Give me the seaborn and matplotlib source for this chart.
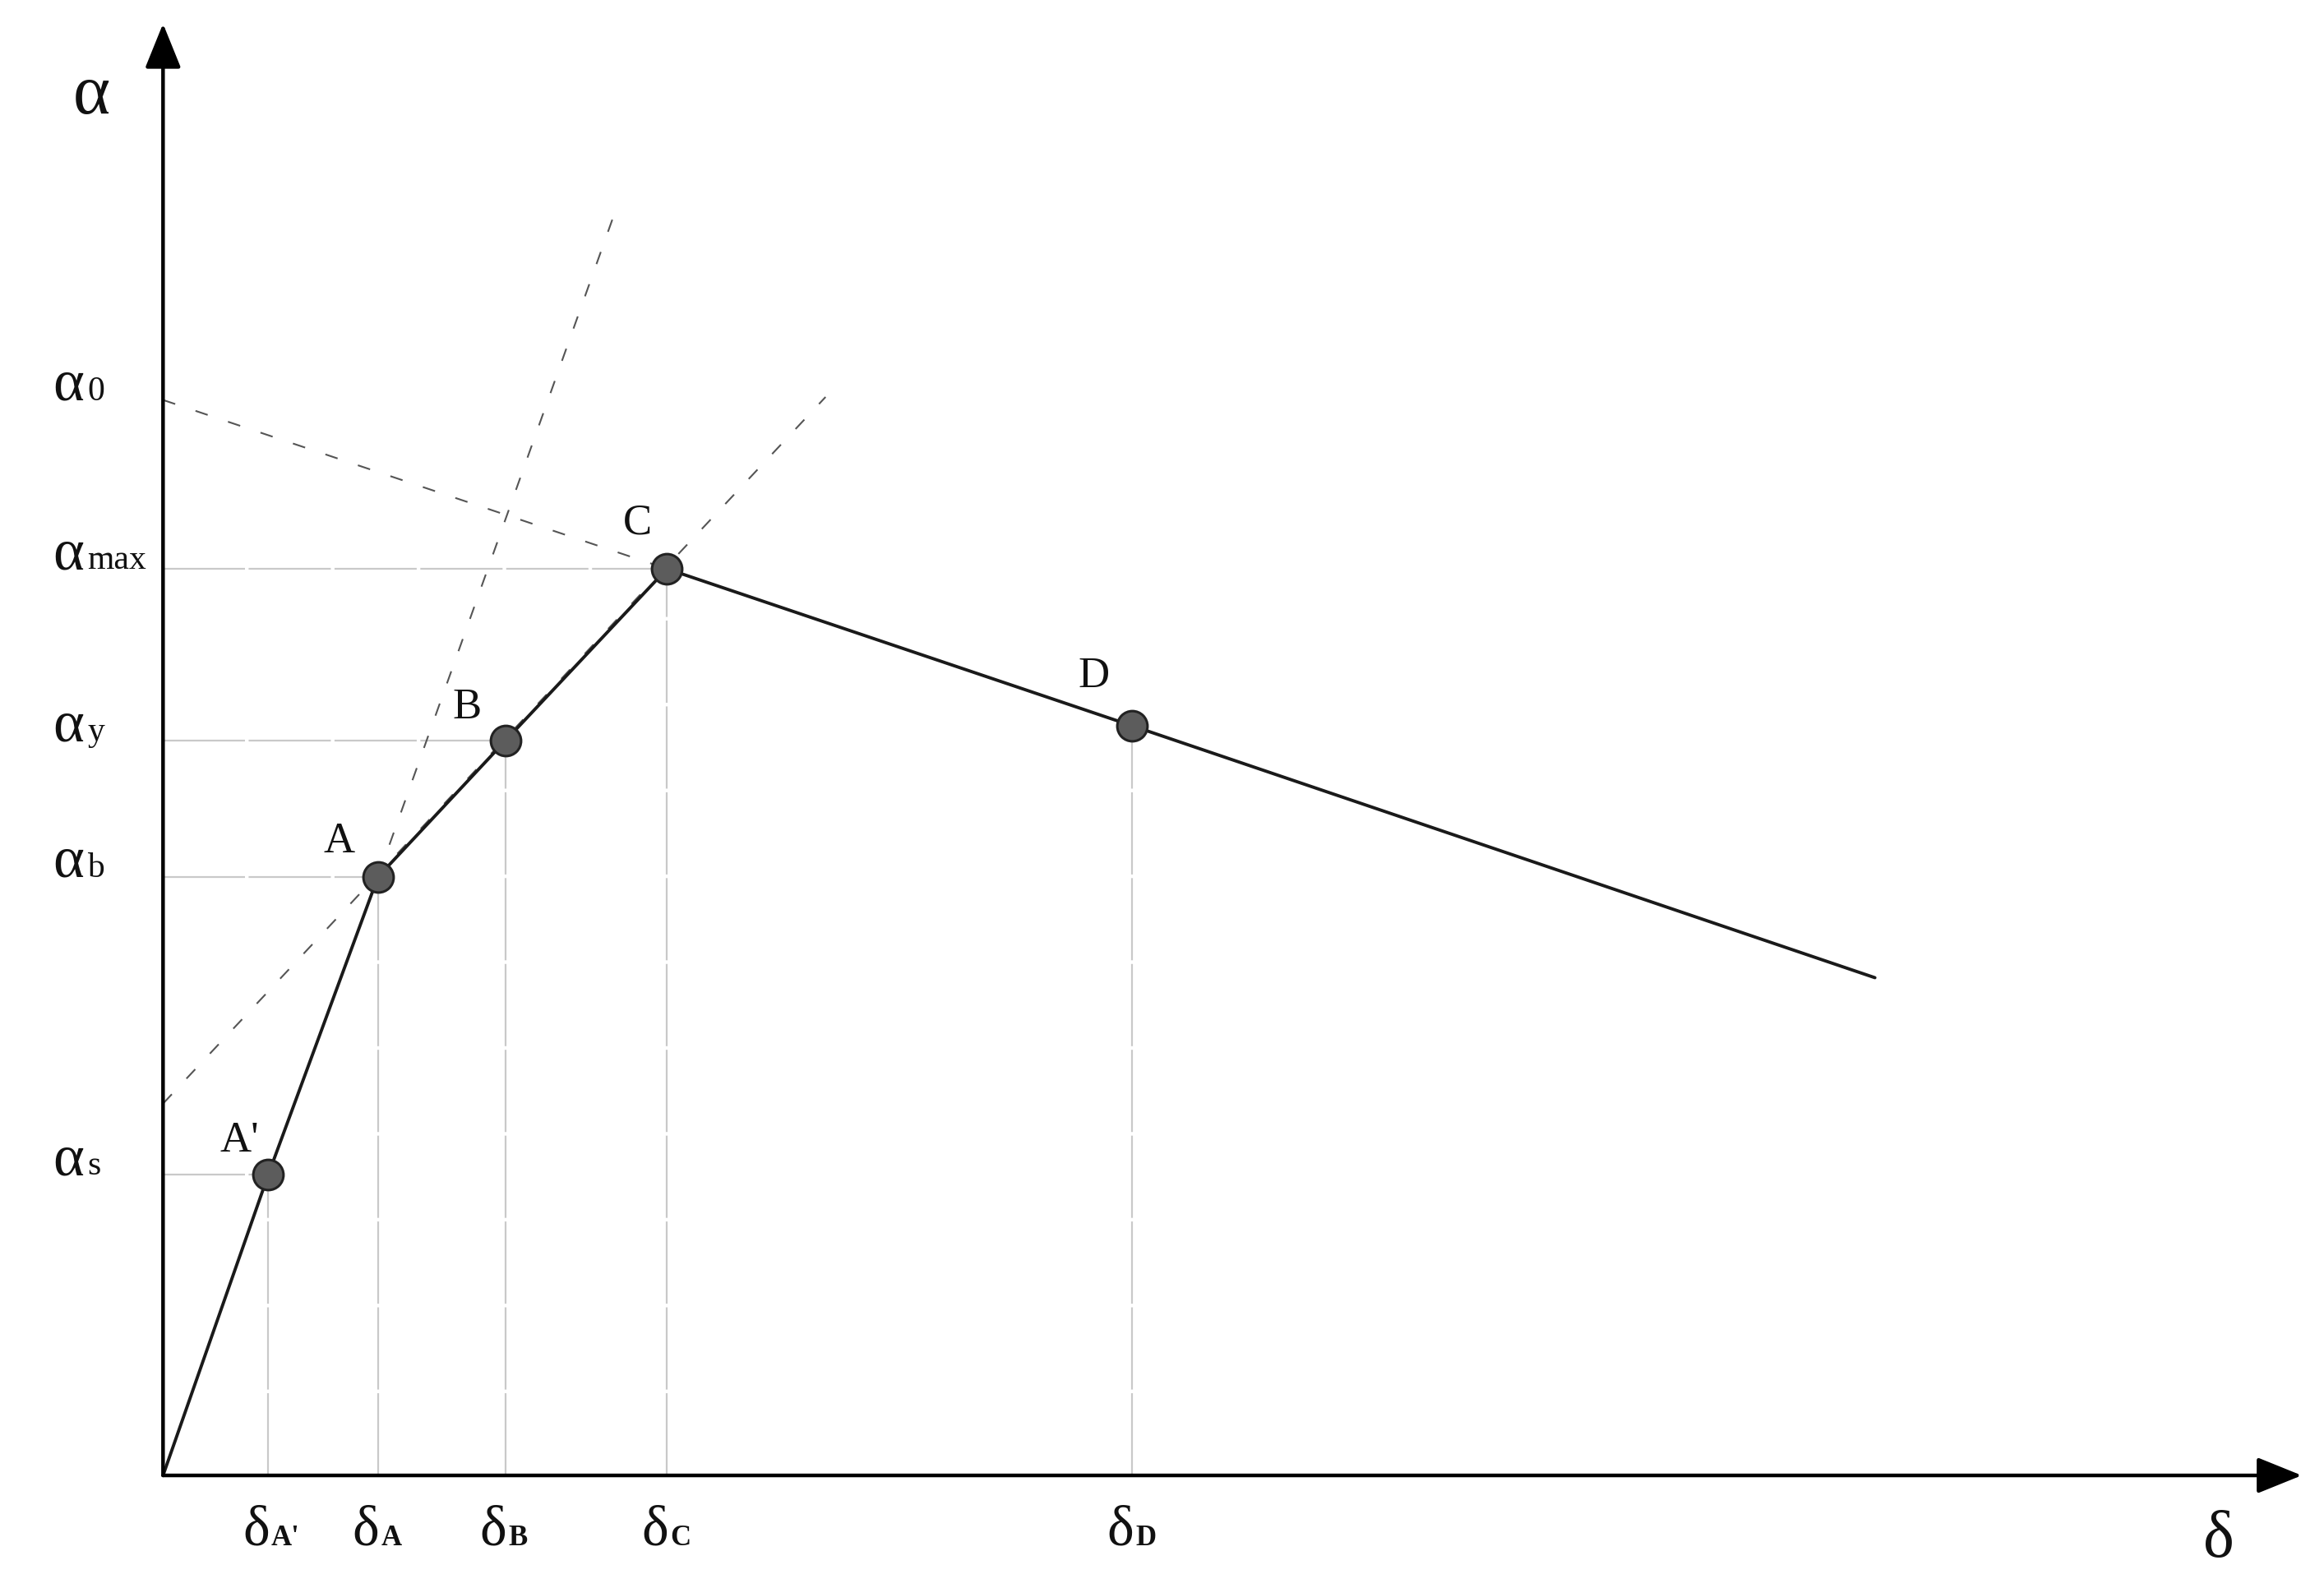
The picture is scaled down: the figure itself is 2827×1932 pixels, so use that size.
import matplotlib
matplotlib.use("Agg")
import matplotlib.pyplot as plt
import seaborn as sns
import pandas as pd

# ---- data ----
point_names = ["A'", "A", "B", "C", "D"]
delta_pts = [0.71, 1.45, 2.31, 3.40, 6.54]          # δ_A', δ_A, δ_B, δ_C, δ_D
alpha_pts = [2.03, 4.04, 4.96, 6.12, 5.06]          # α at A', A, B, C, D
curve_delta = [0.0, 0.71, 1.45, 2.31, 3.40, 6.54, 11.55]
curve_alpha = [0.0, 2.03, 4.04, 4.96, 6.12, 5.06, 3.36]

alpha_tick_values = [7.26, 6.12, 4.96, 4.04, 2.03]
alpha_tick_subs = ["0", "max", "y", "b", "s"]
delta_tick_subs = ["A'", "A", "B", "C", "D"]

# horizontal guides: A', A, B, C (not D)
hguide_x = [0.71, 1.45, 2.31, 3.40]
hguide_y = [2.03, 4.04, 4.96, 6.12]

# dashed construction lines (start, end)
dash_x = [[0.0, 3.40], [0.0, 4.47], [1.45, 3.05]]
dash_y = [[7.26, 6.12], [2.51, 7.28], [4.04, 8.53]]

axis_x_end = 14.43
axis_y_end = 9.80

# ---- style ----
sns.set_theme(style="white")
plt.rcParams["font.family"] = ["Liberation Serif", "DejaVu Serif"]

fig = plt.figure(figsize=(28.27, 19.32), dpi=100)
ax = fig.add_axes([0, 0, 1, 1])
ax.set_xlim(-1.10, 14.58)
ax.set_ylim(-0.76, 9.96)
ax.axis("off")

guide_color = "#c9c9c9"
guide_style = (0, (45, 2))
for x, y in zip(hguide_x, hguide_y):
    ax.plot([0, x], [y, y], color=guide_color, lw=1.6, ls=guide_style, zorder=1)
for x, y in zip(delta_pts, alpha_pts):
    ax.plot([x, x], [0, y], color=guide_color, lw=1.6, ls=guide_style, zorder=1)

for xs, ys in zip(dash_x, dash_y):
    ax.plot(xs, ys, color="#555555", lw=1.5, ls=(0, (7.5, 12.5)), zorder=2)

df = pd.DataFrame({"delta": curve_delta, "alpha": curve_alpha})
sns.lineplot(data=df, x="delta", y="alpha", sort=False, estimator=None,
             color="#1a1a1a", lw=2.8, ax=ax, zorder=3)

pts = pd.DataFrame({"delta": delta_pts, "alpha": alpha_pts, "name": point_names})
sns.scatterplot(data=pts, x="delta", y="alpha", s=700, color="#5c5c5c",
                edgecolor="#222222", linewidth=2.2, ax=ax, zorder=5, legend=False)
ax.set_xlim(-1.10, 14.58)
ax.set_ylim(-0.76, 9.96)
ax.axis("off")

# axes with arrows
arrow_kw = dict(arrowstyle="-|>,head_length=0.42,head_width=0.17", mutation_scale=80,
                color="black", lw=3.2, shrinkA=0, shrinkB=0)
ax.annotate("", xy=(axis_x_end, 0), xytext=(0, 0), arrowprops=arrow_kw, zorder=4)
ax.annotate("", xy=(0, axis_y_end), xytext=(0, 0), arrowprops=arrow_kw, zorder=4)

# axis titles
ax.text(-0.48, 9.31, "α", fontsize=62, ha="center", va="center", color="#111111")
ax.text(13.87, -0.44, "δ", fontsize=58, ha="center", va="center", color="#111111")

# alpha tick labels
for v, s in zip(alpha_tick_values, alpha_tick_subs):
    ax.text(-0.535, v, "α", fontsize=52, ha="right", va="baseline", color="#111111")
    ax.text(-0.51, v, s, fontsize=30, ha="left", va="baseline", color="#111111")

# delta tick labels
for x, s in zip(delta_pts, delta_tick_subs):
    ax.text(x + 0.01, -0.47, "δ", fontsize=50, ha="right", va="baseline", color="#111111")
    ax.text(x + 0.02, -0.47, s, fontsize=25, ha="left", va="baseline",
            color="#111111", fontweight="bold")

# point labels
label_offsets = [(-25, 30), (-34, 31), (-34, 29), (-26, 40), (-34, 43)]
for name, x, y, off in zip(point_names, delta_pts, alpha_pts, label_offsets):
    ax.annotate(name, xy=(x, y), xytext=off, textcoords="offset points",
                fontsize=38, ha="center", va="center", color="#111111")

fig.savefig("out.png", dpi=100)
